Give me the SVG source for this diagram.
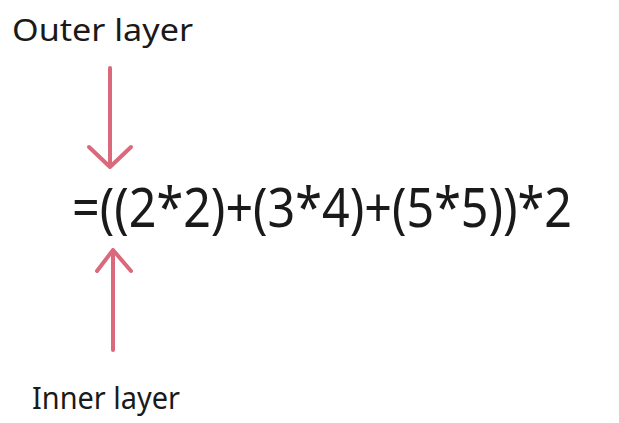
<svg xmlns="http://www.w3.org/2000/svg" width="619" height="423" viewBox="0 0 619 423">
<style>
.lbl{font-family:"Noto Sans","Open Sans",sans-serif;font-size:30px;fill:#1a1a1a}
.eq{font-family:"Noto Sans","Open Sans",sans-serif;font-size:55px;fill:#1a1a1a}
.arr{stroke:#d9697b;stroke-width:4;fill:none;stroke-linecap:round;stroke-linejoin:round}
</style>
<rect width="619" height="423" fill="#ffffff"/>
<g id="outer-label"><text class="lbl" x="12" y="41" textLength="181" lengthAdjust="spacingAndGlyphs">Outer layer</text></g>
<g id="formula"><text class="eq" x="72" y="227" textLength="500" lengthAdjust="spacingAndGlyphs">=((2*2)+(3*4)+(5*5))*2</text></g>
<g id="inner-label"><text class="lbl" x="32" y="409" textLength="148" lengthAdjust="spacingAndGlyphs">Inner layer</text></g>
<g id="connectors">
<path class="arr" d="M110 68 V167 M89 147 L110 167 L131 147"/>
<path class="arr" d="M113 350 V250 M97 271 L113 250 L131 271"/>
</g>
</svg>
